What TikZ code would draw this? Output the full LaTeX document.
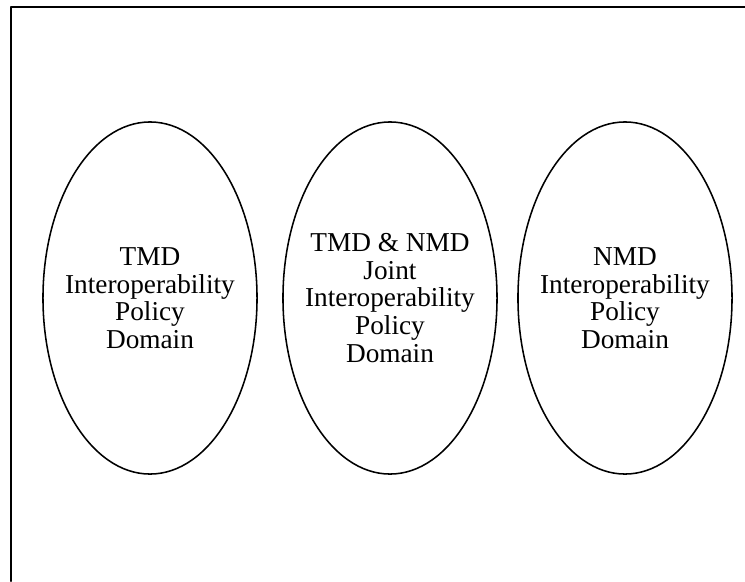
\documentclass[tikz,border=0pt]{standalone}
\usepackage{fontspec}
\setmainfont{Liberation Serif}
\usetikzlibrary{shapes.geometric}
\begin{document}
\begin{tikzpicture}[x=0.025cm, y=-0.025cm, line join=round, line cap=round,
	policydomain/.style={ellipse, draw, line width=1.1pt, inner xsep=-0.5cm, inner ysep=0pt, minimum width=5.35cm, minimum height=8.8cm, align=center, font=\fontsize{19.4}{19.6}\selectfont}]
			\def\W{745}
			\def\H{581}
			\useasboundingbox (0,0) rectangle (\W,\H);
			% frame (only left and top edges are shown)
			\draw[line width=1.6pt] (11,\H)--(11,7)--(\W,7);
			\node[policydomain] (tmd) at (150,298) {TMD\\Interoperability\\Policy\\Domain};
			\node[policydomain] (joint) at (390,298) {TMD \& NMD\\Joint\\Interoperability\\Policy\\Domain};
			\node[policydomain] (nmd) at (625,298) {NMD\\Interoperability\\Policy\\Domain};
		\end{tikzpicture}
\end{document}
